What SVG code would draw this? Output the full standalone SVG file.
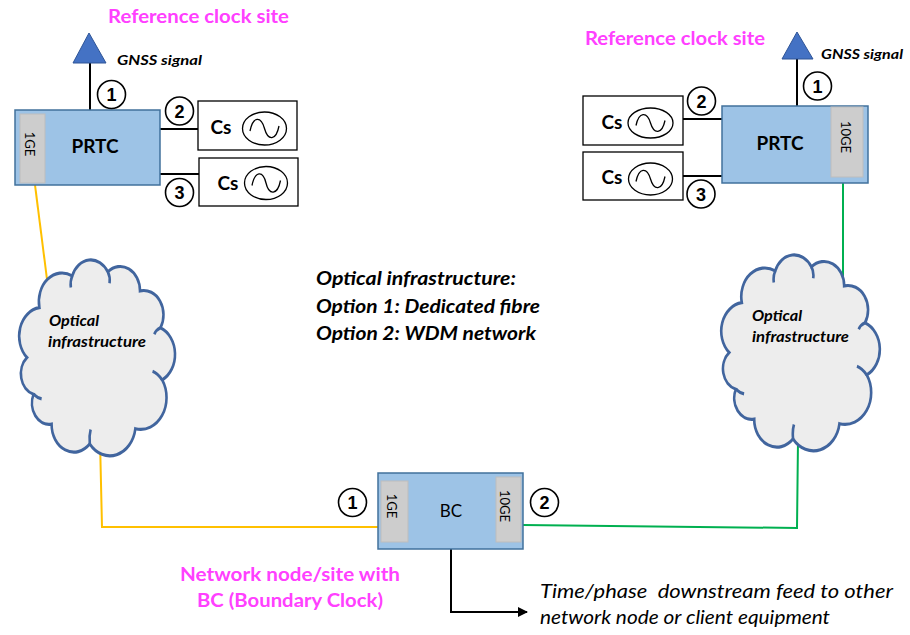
<svg xmlns="http://www.w3.org/2000/svg" width="910" height="635" viewBox="0 0 910 635">
<defs>
<style>
.box{fill:#9DC3E6;stroke:#41719C;stroke-width:1.5}
.tab{fill:#CDCDCD;stroke:#BDBDBD;stroke-width:1}
.csbox{fill:#fff;stroke:#000;stroke-width:1.3}
.osc{fill:#fff;stroke:#000;stroke-width:1.3}
.wave{fill:none;stroke:#000;stroke-width:1.3}
.ncirc{fill:#fff;stroke:#000;stroke-width:1.6}
.num{font-family:"Liberation Sans",Arial,sans-serif;font-weight:bold;font-size:18px;text-anchor:middle;fill:#000}
.ant{fill:#4472C4;stroke:#2F5597;stroke-width:1}
.wire{fill:none;stroke:#000;stroke-width:2}
.yel{fill:none;stroke:#FFC000;stroke-width:2}
.grn{fill:none;stroke:#00B050;stroke-width:2}
.cloud{fill:#EDEDED;stroke:#41659E;stroke-width:1.5}
.hook{fill:none;stroke:#41659E;stroke-width:1.5}
.mag{font-family:Lato,"Liberation Sans",sans-serif;font-weight:bold;font-size:18px;fill:#FF40FF}
.gnss{font-family:Lato,"Liberation Sans",sans-serif;font-weight:bold;font-style:italic;font-size:14px;fill:#000}
.bi{font-family:Lato,"Liberation Sans",sans-serif;font-weight:bold;font-style:italic;font-size:19px;fill:#000}
.cl{font-family:Lato,"Liberation Sans",sans-serif;font-weight:bold;font-style:italic;font-size:16px;fill:#000}
.it{font-family:Lato,"Liberation Sans",sans-serif;font-style:italic;font-size:19px;fill:#000;white-space:pre}
.big{font-family:Lato,"Liberation Sans",sans-serif;font-weight:bold;font-size:19px;fill:#000;text-anchor:middle}
.reg{font-family:Lato,"Liberation Sans",sans-serif;font-size:17px;fill:#000;text-anchor:middle}
.ge{font-family:Lato,"Liberation Sans",sans-serif;font-size:13px;fill:#000;text-anchor:middle}
</style>
<marker id="arr" viewBox="0 0 10 10" refX="9" refY="5" markerWidth="5" markerHeight="5" orient="auto" markerUnits="strokeWidth">
<path d="M0,0 L10,5 L0,10 z" fill="#000"/>
</marker>
<path id="cloudshape" d="M 10 50 A 13.5 13.5 0 0 1 17.2 26.5 A 13.5 13.5 0 0 1 36.3 11.5 A 11.5 11.5 0 0 1 57 9.6 A 11.5 11.5 0 0 1 75.7 18.6 A 11.5 11.5 0 0 1 87.6 36 A 13.5 13.5 0 0 1 88.6 60.6 A 15 15 0 0 1 73 83.6 A 15 15 0 0 1 46.5 90.8 A 13 13 0 0 1 24.3 81.4 A 10 10 0 0 1 13.8 67.3 A 10 10 0 0 1 10 50 Z"/>
<path id="cloudhooks" d="M 36.3 11.5 Q 35 14 35.5 17 M 57 9.6 Q 58.5 12 58 15 M 88.6 60.6 Q 86 57.5 83 56.5 M 46.5 90.8 Q 46 87 47 84 M 13.8 67.3 Q 16 69 18.5 69.5 M 87.6 36 Q 85 37 84 39"/>
</defs>
<rect width="910" height="635" fill="#fff"/>

<g id="connectors">
<line class="wire" x1="90" y1="62" x2="90" y2="110"/>
<line class="wire" x1="797" y1="58" x2="797" y2="106"/>
<line class="wire" x1="160" y1="129" x2="198" y2="129"/>
<line class="wire" x1="160" y1="174" x2="199" y2="174"/>
<line class="wire" x1="683" y1="119" x2="722" y2="119"/>
<line class="wire" x1="683" y1="176" x2="722" y2="176"/>
<polyline class="yel" points="35,185 49,295"/>
<polyline class="yel" points="100,440 102,527 378,527"/>
<polyline class="grn" points="843,183 843,295"/>
<polyline class="grn" points="798,440 797,528 523,525"/>
<polyline class="wire" points="451,549 451,612 527,612" marker-end="url(#arr)"/>
</g>

<g id="title-left"><text class="mag" x="108" y="23" textLength="181" lengthAdjust="spacingAndGlyphs">Reference clock site</text></g>
<g id="title-right"><text class="mag" x="585" y="45" textLength="180" lengthAdjust="spacingAndGlyphs">Reference clock site</text></g>

<g id="antenna-left">
<polygon class="ant" points="89,33 73,63 106,63"/>
<text class="gnss" x="117" y="65" textLength="85" lengthAdjust="spacingAndGlyphs">GNSS signal</text>
</g>
<g id="antenna-right">
<polygon class="ant" points="797,32 782,59 813,59"/>
<text class="gnss" x="821" y="59" textLength="82" lengthAdjust="spacingAndGlyphs">GNSS signal</text>
</g>

<g id="prtc-left">
<rect class="box" x="15" y="110" width="145" height="75"/>
<rect class="tab" x="20" y="114" width="25" height="69"/>
<text class="ge" transform="translate(29,144) rotate(90)" y="4.5">1GE</text>
<text class="big" x="95" y="153">PRTC</text>
</g>
<g id="prtc-right">
<rect class="box" x="722" y="106" width="146" height="77"/>
<rect class="tab" x="831" y="107" width="32" height="70"/>
<text class="ge" transform="translate(845,137) rotate(90)" y="4.5" font-size="14">10GE</text>
<text class="big" x="780" y="150">PRTC</text>
</g>

<g id="cs-left-1">
<rect class="csbox" x="198" y="101" width="99" height="49"/>
<text class="big" x="221" y="134">Cs</text>
<ellipse class="osc" cx="264.5" cy="128.5" rx="22" ry="16.5"/>
<path class="wave" d="M 250 131 C 253 116, 261 116, 264.5 128.5 S 276 141, 279 126"/>
</g>
<g id="cs-left-2">
<rect class="csbox" x="199" y="158" width="99" height="48"/>
<text class="big" x="228" y="190">Cs</text>
<ellipse class="osc" cx="266" cy="183" rx="21.5" ry="16.5"/>
<path class="wave" d="M 252 185.5 C 255 170.5, 263 170.5, 266 183 S 277.5 195.5, 280.5 180.5"/>
</g>
<g id="cs-right-1">
<rect class="csbox" x="583" y="96" width="100" height="49"/>
<text class="big" x="612" y="129">Cs</text>
<ellipse class="osc" cx="650.5" cy="123" rx="22.5" ry="15"/>
<path class="wave" d="M 636 125.5 C 639 111.5, 647 111.5, 650.5 123 S 662 134.5, 665 120.5"/>
</g>
<g id="cs-right-2">
<rect class="csbox" x="583" y="152" width="100" height="48"/>
<text class="big" x="612" y="184">Cs</text>
<ellipse class="osc" cx="650.5" cy="179" rx="22" ry="16"/>
<path class="wave" d="M 636 181.5 C 639 167, 647 167, 650.5 179 S 662 191, 665 176.5"/>
</g>

<g id="n1-left"><circle class="ncirc" cx="111.5" cy="94.5" r="14"/><text class="num" x="111.5" y="101">1</text></g>
<g id="n2-left"><circle class="ncirc" cx="179.5" cy="111" r="14"/><text class="num" x="179.5" y="117.5">2</text></g>
<g id="n3-left"><circle class="ncirc" cx="179.5" cy="192.5" r="14"/><text class="num" x="179.5" y="199">3</text></g>
<g id="n1-right"><circle class="ncirc" cx="817.5" cy="86" r="14"/><text class="num" x="817.5" y="92.5">1</text></g>
<g id="n2-right"><circle class="ncirc" cx="701.5" cy="101" r="14"/><text class="num" x="701.5" y="107.5">2</text></g>
<g id="n3-right"><circle class="ncirc" cx="701" cy="194" r="14"/><text class="num" x="701" y="200.5">3</text></g>
<g id="n1-bc"><circle class="ncirc" cx="352.5" cy="502.5" r="14"/><text class="num" x="352.5" y="509">1</text></g>
<g id="n2-bc"><circle class="ncirc" cx="544.5" cy="502.5" r="14"/><text class="num" x="544.5" y="509">2</text></g>

<g id="cloud-left">
<g transform="translate(9.8,251.5) scale(1.72,2.12)">
<use href="#cloudshape" class="cloud" style="vector-effect:non-scaling-stroke"/>
<use href="#cloudhooks" class="hook" style="vector-effect:non-scaling-stroke"/>
</g>
<text class="cl" x="49" y="326" textLength="50" lengthAdjust="spacingAndGlyphs">Optical</text>
<text class="cl" x="48" y="347" textLength="98" lengthAdjust="spacingAndGlyphs">infrastructure</text>
</g>
<g id="cloud-right">
<g transform="translate(711.7,246.5) scale(1.75,2.12)">
<use href="#cloudshape" class="cloud" style="vector-effect:non-scaling-stroke"/>
<use href="#cloudhooks" class="hook" style="vector-effect:non-scaling-stroke"/>
</g>
<text class="cl" x="752" y="321" textLength="50" lengthAdjust="spacingAndGlyphs">Optical</text>
<text class="cl" x="752" y="342" textLength="97" lengthAdjust="spacingAndGlyphs">infrastructure</text>
</g>

<g id="bc">
<rect class="box" x="378" y="473" width="145" height="76"/>
<rect class="tab" x="381" y="481" width="27" height="61"/>
<rect class="tab" x="496" y="477" width="25" height="65"/>
<text class="ge" transform="translate(391,506) rotate(90)" y="4.5">1GE</text>
<text class="ge" transform="translate(504,506) rotate(90)" y="4.5" font-size="14">10GE</text>
<text class="reg" x="451" y="517">BC</text>
</g>

<g id="options-note">
<text class="bi" x="316" y="285" textLength="200" lengthAdjust="spacingAndGlyphs">Optical infrastructure:</text>
<text class="bi" x="316" y="313" textLength="224" lengthAdjust="spacingAndGlyphs">Option 1: Dedicated fibre</text>
<text class="bi" x="316" y="340" textLength="220" lengthAdjust="spacingAndGlyphs">Option 2: WDM network</text>
</g>

<g id="bc-label">
<text class="mag" x="290" y="581" text-anchor="middle" textLength="220" lengthAdjust="spacingAndGlyphs">Network node/site with</text>
<text class="mag" x="290" y="607" text-anchor="middle" textLength="186" lengthAdjust="spacingAndGlyphs">BC (Boundary Clock)</text>
</g>

<g id="feed-label">
<text class="it" x="540" y="598" textLength="353" lengthAdjust="spacingAndGlyphs" xml:space="preserve">Time/phase  downstream feed to other</text>
<text class="it" x="540" y="624" textLength="290" lengthAdjust="spacingAndGlyphs">network node or client equipment</text>
</g>
</svg>
